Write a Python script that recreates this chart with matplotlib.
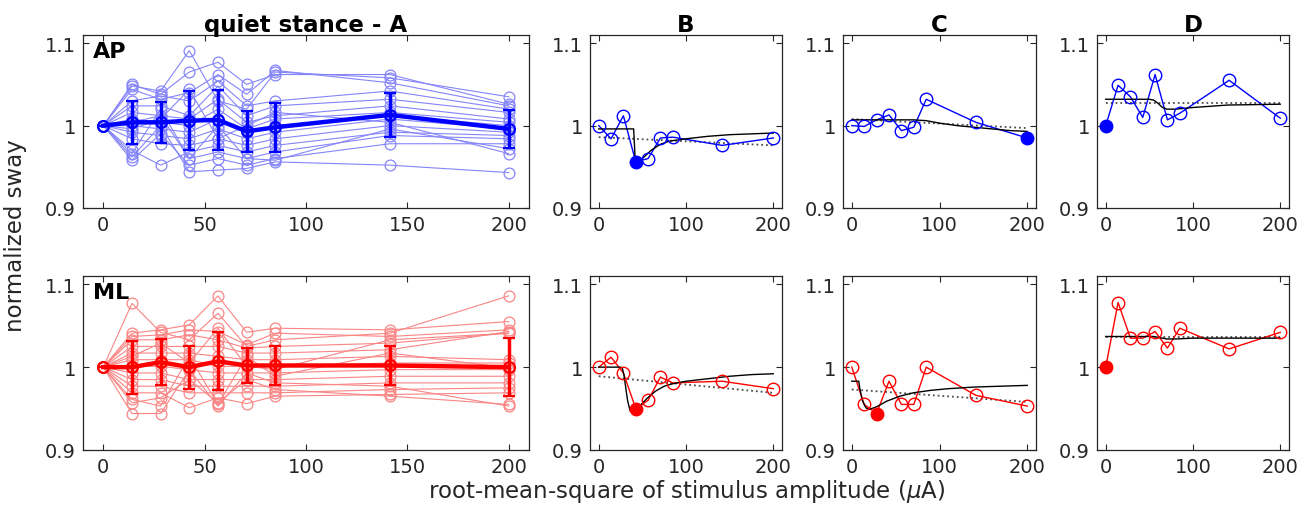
import matplotlib
matplotlib.use("Agg")
import matplotlib.pyplot as plt
import numpy as np

plt.rcParams['font.family'] = ['DejaVu Sans']

# ---------------- data ----------------
x_levels = [0, 14.14, 28.28, 42.43, 56.57, 70.71, 84.85, 141.42, 200]

# Panel A - AP: individual subjects (values at x_levels[1:], first point is 1.0)
ap_subjects = [
    [1.048, 1.042, 1.091, 1.030, 1.020, 1.065, 1.058, 1.035],
    [1.050, 1.038, 1.065, 1.077, 1.050, 1.062, 1.062, 1.026],
    [1.044, 1.032, 1.040, 1.062, 1.038, 1.067, 1.052, 1.024],
    [1.030, 1.036, 1.030, 1.054, 1.024, 1.030, 1.042, 1.020],
    [1.024, 1.024, 1.012, 1.048, 1.012, 1.024, 1.032, 1.016],
    [1.016, 1.012, 1.008, 1.032, 1.004, 1.012, 1.024, 1.008],
    [1.008, 1.004, 1.000, 1.020, 0.996, 1.008, 1.016, 1.004],
    [1.000, 0.996, 0.992, 1.008, 0.992, 1.000, 1.012, 1.000],
    [0.992, 0.988, 0.984, 0.996, 0.984, 0.992, 1.008, 0.996],
    [0.984, 0.978, 0.976, 0.984, 0.976, 0.984, 1.000, 0.992],
    [0.970, 0.952, 0.968, 0.976, 0.968, 0.976, 0.992, 0.988],
    [0.966, 1.020, 0.960, 0.968, 0.960, 0.968, 0.988, 0.984],
    [0.958, 0.990, 0.952, 0.960, 0.952, 0.960, 0.978, 0.978],
    [0.962, 1.000, 0.944, 0.946, 0.948, 0.956, 0.952, 0.943],
    [1.004, 1.012, 0.960, 1.000, 0.960, 0.958, 0.996, 0.972],
    [0.996, 1.008, 1.044, 0.984, 1.000, 1.016, 1.004, 0.966],
]
ap_mean = [1.0, 1.004, 1.004, 1.006, 1.007, 0.993, 0.998, 1.013, 0.996]
ap_err = [0.0, 0.026, 0.025, 0.036, 0.036, 0.025, 0.030, 0.027, 0.023]

# Panel A - ML
ml_subjects = [
    [1.077, 1.042, 1.033, 1.065, 1.025, 1.033, 1.041, 1.086],
    [1.041, 1.045, 1.051, 1.086, 1.042, 1.047, 1.045, 1.055],
    [1.037, 1.039, 1.045, 1.043, 1.027, 1.041, 1.037, 1.045],
    [1.033, 1.033, 1.039, 1.033, 1.023, 1.025, 1.029, 1.041],
    [1.025, 1.025, 1.025, 1.025, 1.017, 1.017, 1.021, 1.043],
    [1.017, 1.017, 1.017, 1.013, 1.009, 1.009, 1.013, 1.009],
    [1.009, 1.009, 1.009, 1.001, 1.001, 1.001, 1.005, 1.005],
    [1.001, 1.001, 0.997, 0.993, 0.993, 0.993, 0.997, 0.997],
    [0.993, 0.993, 0.985, 0.985, 0.985, 0.985, 0.989, 0.989],
    [0.985, 0.985, 0.977, 0.977, 0.977, 0.977, 0.981, 0.981],
    [0.977, 0.977, 0.969, 0.969, 0.969, 0.969, 0.973, 0.975],
    [0.969, 0.969, 0.951, 0.963, 0.956, 0.965, 0.967, 0.969],
    [0.957, 0.963, 0.985, 0.957, 0.985, 0.973, 0.965, 0.955],
    [0.944, 0.944, 0.997, 0.953, 0.993, 0.981, 0.977, 0.953],
    [0.961, 0.953, 1.013, 0.955, 1.013, 0.989, 1.017, 0.999],
    [1.013, 1.029, 1.005, 1.047, 1.001, 0.997, 1.033, 1.041],
]
ml_mean = [1.0, 1.0, 1.006, 1.0, 1.007, 1.002, 1.002, 1.002, 1.0]
ml_err = [0.0, 0.032, 0.028, 0.026, 0.035, 0.021, 0.023, 0.024, 0.035]

# Example subjects B, C, D  (AP then ML)
b_ap = [1.0, 0.984, 1.012, 0.956, 0.960, 0.985, 0.986, 0.976, 0.985]
b_ap_filled = 3
b_ap_fit_x = [0, 38, 40, 41, 42, 44, 50, 60, 70, 80, 100, 125, 150, 175, 200]
b_ap_fit_y = [0.996, 0.996, 0.996, 0.975, 0.953, 0.952, 0.960, 0.970, 0.977, 0.981, 0.984, 0.987, 0.989, 0.990, 0.991]
b_ap_lin = [0.986, 0.976]

b_ml = [1.0, 1.012, 0.993, 0.950, 0.960, 0.988, 0.981, 0.983, 0.974]
b_ml_filled = 3
b_ml_fit_x = [0, 25, 27, 29, 31, 33, 36, 40, 47, 55, 65, 75, 85, 100, 125, 150, 175, 200]
b_ml_fit_y = [1.0, 1.0, 0.999, 0.990, 0.975, 0.960, 0.947, 0.948, 0.953, 0.962, 0.971, 0.977, 0.980, 0.983, 0.986, 0.989, 0.991, 0.992]
b_ml_lin = [0.989, 0.969]

c_ap = [1.0, 0.999, 1.007, 1.013, 0.994, 0.998, 1.032, 1.004, 0.985]
c_ap_filled = 8
c_ap_fit_x = [0, 40, 70, 85, 100, 120, 140, 160, 180, 200]
c_ap_fit_y = [1.007, 1.007, 1.007, 1.006, 1.003, 1.000, 0.998, 0.996, 0.994, 0.993]
c_ap_lin = [1.008, 0.997]

c_ml = [1.0, 0.955, 0.944, 0.983, 0.955, 0.955, 1.0, 0.966, 0.953]
c_ml_filled = 2
c_ml_fit_x = [0, 8, 9, 12, 16, 20, 28, 40, 55, 70, 90, 110, 140, 170, 200]
c_ml_fit_y = [0.983, 0.983, 0.975, 0.960, 0.951, 0.949, 0.952, 0.959, 0.965, 0.969, 0.972, 0.974, 0.976, 0.977, 0.978]
c_ml_lin = [0.973, 0.958]

d_ap = [1.0, 1.049, 1.035, 1.010, 1.062, 1.007, 1.015, 1.055, 1.009]
d_ap_filled = 0
d_ap_fit_x = [0, 50, 55, 60, 65, 70, 80, 100, 140, 200]
d_ap_fit_y = [1.032, 1.032, 1.031, 1.027, 1.022, 1.020, 1.020, 1.022, 1.025, 1.026]
d_ap_lin = [1.027, 1.027]

d_ml = [1.0, 1.078, 1.035, 1.035, 1.043, 1.023, 1.047, 1.022, 1.042]
d_ml_filled = 0
d_ml_fit_x = [0, 50, 55, 60, 65, 70, 80, 100, 140, 200]
d_ml_fit_y = [1.037, 1.037, 1.037, 1.036, 1.035, 1.034, 1.034, 1.035, 1.035, 1.035]
d_ml_lin = [1.036, 1.036]

col_titles = ['quiet stance - A', 'B', 'C', 'D']
row_labels = ['AP', 'ML']

# ---------------- figure ----------------
W, H = 1316, 506
fig = plt.figure(figsize=(W / 100, H / 100), dpi=100)

def rect(l, r, t, b):
    return [l / W, 1 - b / H, (r - l) / W, (b - t) / H]

cols_px = [(83, 529), (590, 782), (843, 1036), (1097, 1289)]
rows_px = [(36, 209), (277, 451)]

txtc = (0.15, 0.15, 0.15)
tick_fs = 14

def style(ax, xticks):
    ax.set_xlim(-10, 210)
    ax.set_ylim(0.9, 1.11)
    ax.set_xticks(xticks)
    ax.set_yticks([0.9, 1.0, 1.1])
    ax.set_yticklabels(['0.9', '1', '1.1'])
    ax.tick_params(direction='in', top=True, right=True, length=4, width=0.8,
                   labelsize=tick_fs, colors=txtc, pad=5)
    for s in ax.spines.values():
        s.set_color(txtc)
        s.set_linewidth(0.9)

blue = (0, 0, 1)
red = (1, 0, 0)
light = {'AP': (0.52, 0.52, 0.98), 'ML': (0.98, 0.52, 0.52)}
main = {'AP': blue, 'ML': red}

groups = {
    'AP': (ap_subjects, ap_mean, ap_err),
    'ML': (ml_subjects, ml_mean, ml_err),
}
examples = {
    ('AP', 1): (b_ap, b_ap_filled, b_ap_fit_x, b_ap_fit_y, b_ap_lin),
    ('ML', 1): (b_ml, b_ml_filled, b_ml_fit_x, b_ml_fit_y, b_ml_lin),
    ('AP', 2): (c_ap, c_ap_filled, c_ap_fit_x, c_ap_fit_y, c_ap_lin),
    ('ML', 2): (c_ml, c_ml_filled, c_ml_fit_x, c_ml_fit_y, c_ml_lin),
    ('AP', 3): (d_ap, d_ap_filled, d_ap_fit_x, d_ap_fit_y, d_ap_lin),
    ('ML', 3): (d_ml, d_ml_filled, d_ml_fit_x, d_ml_fit_y, d_ml_lin),
}

for ri, rl in enumerate(row_labels):
    t, b = rows_px[ri]
    for ci in range(4):
        l, r = cols_px[ci]
        ax = fig.add_axes(rect(l, r, t, b))
        if ci == 0:
            subs, mean, err = groups[rl]
            for s in subs:
                ax.plot(x_levels, [1.0] + s, '-o', color=light[rl], lw=0.8,
                        mfc='none', mec=light[rl], ms=7.8, mew=0.9)
            ax.errorbar(x_levels, mean, yerr=err, color=main[rl], lw=3.2,
                        elinewidth=2.5, capsize=4.5, capthick=2.5,
                        marker='o', mfc='none', mec=main[rl], ms=7.8, mew=1.6,
                        zorder=5)
            style(ax, [0, 50, 100, 150, 200])
            ax.text(0.022, 0.965, rl, transform=ax.transAxes, fontsize=16,
                    fontweight='bold', va='top', ha='left')
        else:
            yv, fi, fx, fy, lin = examples[(rl, ci)]
            c = main[rl]
            ax.plot(x_levels, yv, '-', color=c, lw=1.0, zorder=3)
            ax.plot([x for i, x in enumerate(x_levels) if i != fi],
                    [y for i, y in enumerate(yv) if i != fi], 'o',
                    mfc='none', mec=c, ms=9, mew=1.0, zorder=4)
            ax.plot([x_levels[fi]], [yv[fi]], 'o', color=c, ms=9, zorder=5)
            ax.plot(fx, fy, '-', color='black', lw=1.0, zorder=3)
            ax.plot([x_levels[0], x_levels[-1]], lin, ':', color=(0.3, 0.3, 0.3),
                    lw=1.3, zorder=2)
            style(ax, [0, 100, 200])
        if ri == 0:
            ax.set_title(col_titles[ci], fontsize=16.5, fontweight='bold', pad=3)

fig.text(16 / W, 1 - 236 / H, 'normalized sway', rotation=90, fontsize=16.5,
         ha='center', va='center', color=txtc)
fig.text(687 / W, 1 - 492 / H, r'root-mean-square of stimulus amplitude ($\mu$A)',
         fontsize=16.5, ha='center', va='center', color=txtc)

fig.savefig('out.png', dpi=100)
